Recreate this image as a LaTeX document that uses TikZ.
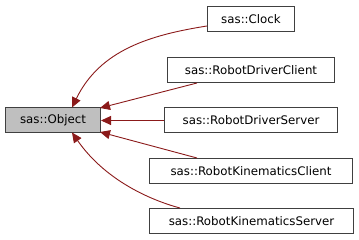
\documentclass[tikz,border=0pt]{standalone}
\usepackage{fontspec}
\setmainfont{DejaVu Sans}
\usetikzlibrary{arrows.meta}
\definecolor{edgered}{HTML}{8B1A1A}
\definecolor{boxline}{HTML}{404040}
\definecolor{basefill}{HTML}{BFBFBF}
\begin{document}
\begin{tikzpicture}[x=1pt,y=-1pt,
  cls/.style={draw=boxline,line width=1pt,fill=white,minimum height=25pt,inner sep=0pt,font=\fontsize{11.8}{13}\selectfont,anchor=north west},
  inh/.style={draw=edgered,line width=0.9pt,-{Triangle[length=10pt,width=9pt]}}]
\useasboundingbox (0,0) rectangle (359,240);
\node[cls,fill=basefill,minimum width=95pt] (obj) at (5,107.5) {sas::Object};
\node[cls,minimum width=87pt] (clock) at (207,6) {sas::Clock};
\node[cls,minimum width=167pt] (rdc) at (167,57) {sas::RobotDriverClient};
\node[cls,minimum width=173pt] (rds) at (164,107.5) {sas::RobotDriverServer};
\node[cls,minimum width=203pt] (rkc) at (149,158) {sas::RobotKinematicsClient};
\node[cls,minimum width=204pt] (rks) at (149,208) {sas::RobotKinematicsServer};
\coordinate (objtop) at (72,107.5);
\coordinate (objbot) at (72,132.5);
\coordinate (objne) at (100,108);
\coordinate (objse) at (100,132);
\draw[inh] (clock.south west) ++(0,-6) .. controls (150,35) and (100,50) .. (objtop);
\draw[inh] (rdc.south west) ++(30,0) -- (objne);
\draw[inh] (rds.west) -- (obj.east);
\draw[inh] (rkc.north west) ++(48,0) -- (objse);
\draw[inh] (rks.north west) ++(31,0) .. controls (150,200) and (105,180) .. (objbot);
\end{tikzpicture}
\end{document}
